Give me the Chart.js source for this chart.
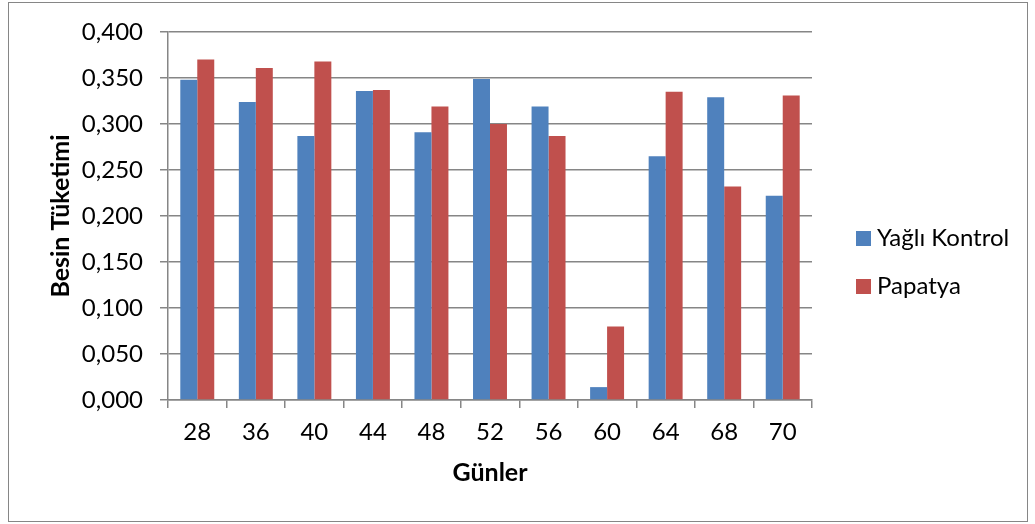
<!DOCTYPE html>
<html>
<head>
<meta charset="utf-8">
<script src="https://cdn.jsdelivr.net/npm/chart.js@4.4.0/dist/chart.umd.min.js"></script>
<style>
  html, body { margin: 0; padding: 0; background: #fff; }
  #wrap { width: 1035px; height: 524px; position: relative; }
</style>
</head>
<body>
<div id="wrap"><canvas id="chart"></canvas></div>
<script>
// Chart data
const days = ['28', '36', '40', '44', '48', '52', '56', '60', '64', '68', '70'];
const yagliKontrol = [0.348, 0.324, 0.287, 0.336, 0.291, 0.349, 0.319, 0.014, 0.265, 0.329, 0.222];
const papatya = [0.370, 0.361, 0.368, 0.337, 0.319, 0.300, 0.287, 0.080, 0.335, 0.232, 0.331];
const yTickLabels = ['0,000', '0,050', '0,100', '0,150', '0,200', '0,250', '0,300', '0,350', '0,400'];

const gridGray = '#868686';
const fontName = 'Lato, "Open Sans", sans-serif';

// Outer frame and right-hand legend, drawn like the Excel chart
const framePlugin = {
  id: 'frame',
  afterDraw(chart) {
    const ctx = chart.ctx;
    ctx.save();
    ctx.strokeStyle = gridGray;
    ctx.lineWidth = 1;
    ctx.strokeRect(8.5, 2.5, 1019, 519);

    ctx.font = '24px ' + fontName;
    ctx.textBaseline = 'middle';
    ctx.textAlign = 'left';
    const rows = [238, 286];
    chart.data.datasets.forEach(function (ds, i) {
      ctx.fillStyle = ds.backgroundColor;
      ctx.fillRect(856, rows[i] - 7, 15, 15);
      ctx.fillStyle = '#000';
      ctx.fillText(ds.label, 877, rows[i]);
    });
    ctx.restore();
  }
};

const ctx = document.getElementById('chart').getContext('2d');
const chart = new Chart(ctx, {
  type: 'bar',
  data: {
    labels: days,
    datasets: [{
      label: 'Yağlı Kontrol',
      data: yagliKontrol,
      backgroundColor: '#4F81BD',
      categoryPercentage: 0.58,
      barPercentage: 1
    }, {
      label: 'Papatya',
      data: papatya,
      backgroundColor: '#C0504D',
      categoryPercentage: 0.58,
      barPercentage: 1
    }]
  },
  options: {
    responsive: true,
    maintainAspectRatio: false,
    animation: false,
    devicePixelRatio: 1,
    layout: { padding: { top: 32, right: 223, bottom: 0, left: 0 } },
    plugins: {
      legend: { display: false },
      tooltip: { enabled: false }
    },
    scales: {
      x: {
        afterFit: function (scale) { scale.height = 124; },
        grid: {
          offset: true,
          drawOnChartArea: false,
          drawTicks: true,
          tickLength: 8,
          color: gridGray,
          lineWidth: 1.5
        },
        border: { color: gridGray, width: 1.5 },
        ticks: {
          color: '#000',
          padding: 10,
          font: { family: fontName, size: 24 }
        },
        title: {
          display: true,
          text: 'Günler',
          color: '#000',
          padding: { top: 0, bottom: 36 },
          font: { family: fontName, size: 25, weight: 'bold' }
        }
      },
      y: {
        min: 0,
        max: 0.4,
        afterFit: function (scale) { scale.width = 168; },
        ticks: {
          stepSize: 0.05,
          color: '#000',
          padding: 17,
          font: { family: fontName, size: 24 },
          callback: function (value, index) { return yTickLabels[index]; }
        },
        grid: {
          color: gridGray,
          lineWidth: 1.5,
          tickLength: 8
        },
        border: { color: gridGray, width: 1.5 },
        title: {
          display: true,
          text: 'Besin Tüketimi',
          color: '#000',
          padding: { top: 46, bottom: 0 },
          font: { family: fontName, size: 25, weight: 'bold' }
        }
      }
    }
  },
  plugins: [framePlugin]
});
</script>
</body>
</html>
